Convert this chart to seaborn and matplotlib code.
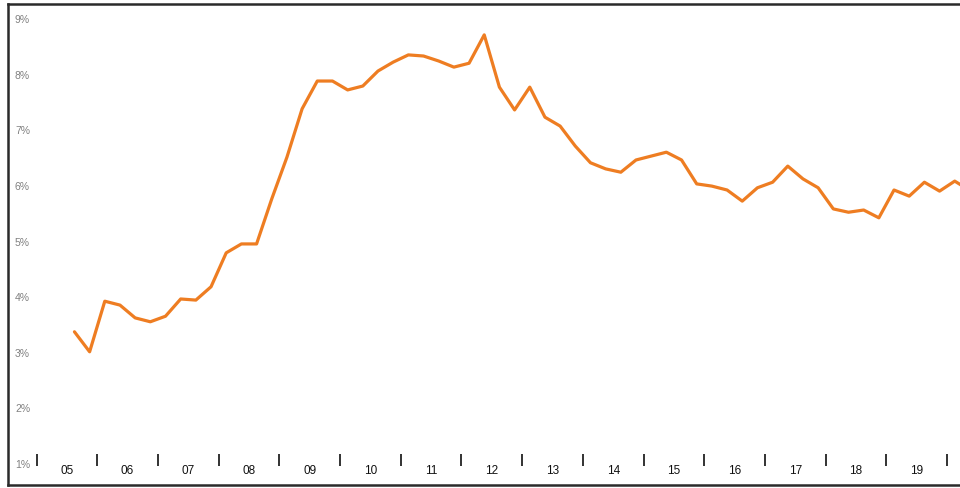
import numpy as np
import pandas as pd
import matplotlib
matplotlib.use("Agg")
import matplotlib.pyplot as plt
import seaborn as sns

# Quarterly series, first point = Q3 2005
values = [3.36, 3.00, 3.91, 3.84, 3.61, 3.54, 3.64, 3.95, 3.93, 4.17,
          4.78, 4.94, 4.94, 5.75, 6.50, 7.37, 7.87, 7.87, 7.71, 7.78,
          8.05, 8.21, 8.34, 8.32, 8.23, 8.12, 8.19, 8.70, 7.76, 7.35,
          7.76, 7.22, 7.06, 6.70, 6.40, 6.29, 6.23, 6.45, 6.52, 6.59,
          6.45, 6.02, 5.98, 5.91, 5.71, 5.95, 6.05, 6.34, 6.11, 5.95,
          5.57, 5.51, 5.55, 5.41, 5.91, 5.80, 6.05, 5.89, 6.07, 5.90]
first_quarter = 2  # index of Q3 (0-based) in 2005
year_labels = ["05", "06", "07", "08", "09", "10", "11", "12", "13", "14",
               "15", "16", "17", "18", "19"]
y_ticks = [1, 2, 3, 4, 5, 6, 7, 8, 9]
y_labels = ["1%", "2%", "3%", "4%", "5%", "6%", "7%", "8%", "9%"]

# time in years since start of 2005 (mid-quarter)
t = [(first_quarter + k + 0.5) / 4 for k in range(len(values))]
df = pd.DataFrame({"t": t, "v": values})

sns.set_theme(style="white")
plt.rcParams["font.family"] = ["Liberation Sans", "DejaVu Sans"]

W, H = 960, 489
fig = plt.figure(figsize=(W / 100, H / 100), dpi=100)
# frame from px x=8 (to beyond right edge), y=5..486
ax = fig.add_axes([8 / W, (H - 486) / H, 962 / W, 481 / H])

x0, xs = 36.5, 60.71   # px of 2005 start, px per year
y1, ys = 464.0, 55.6   # px of 1%, px per percentage point
ax.set_xlim((8 - x0) / xs, (970 - x0) / xs)
ax.set_ylim(1 - (486 - y1) / ys, 1 + (y1 - 5) / ys)

sns.lineplot(data=df, x="t", y="v", ax=ax, color="#EE7D22", linewidth=2.3,
             legend=False)

# year separator marks
bounds = np.arange(0, len(year_labels) + 1)
ax.vlines(bounds, 1 - (467 - y1) / ys, 1 + (y1 - 455) / ys,
          color="#222222", linewidth=1.3)

ax.set_xticks(np.arange(len(year_labels)) + 0.5, year_labels)
ax.tick_params(axis="x", length=0, pad=-15, labelsize=8.5,
               labelcolor="#111111")
ax.set_yticks(y_ticks, y_labels)
ax.tick_params(axis="y", length=0, pad=-5, labelsize=7.5, labelcolor="#808080")
for lab in ax.get_yticklabels():
    lab.set_horizontalalignment("left")
for lab in ax.get_xticklabels():
    lab.set_fontweight("medium")

ax.set_xlabel("")
ax.set_ylabel("")
for s in ax.spines.values():
    s.set_visible(True)
    s.set_color("#2a2a2a")
    s.set_linewidth(1.8)
ax.set_facecolor("white")
fig.patch.set_facecolor("white")

fig.savefig("out.png", dpi=100)
